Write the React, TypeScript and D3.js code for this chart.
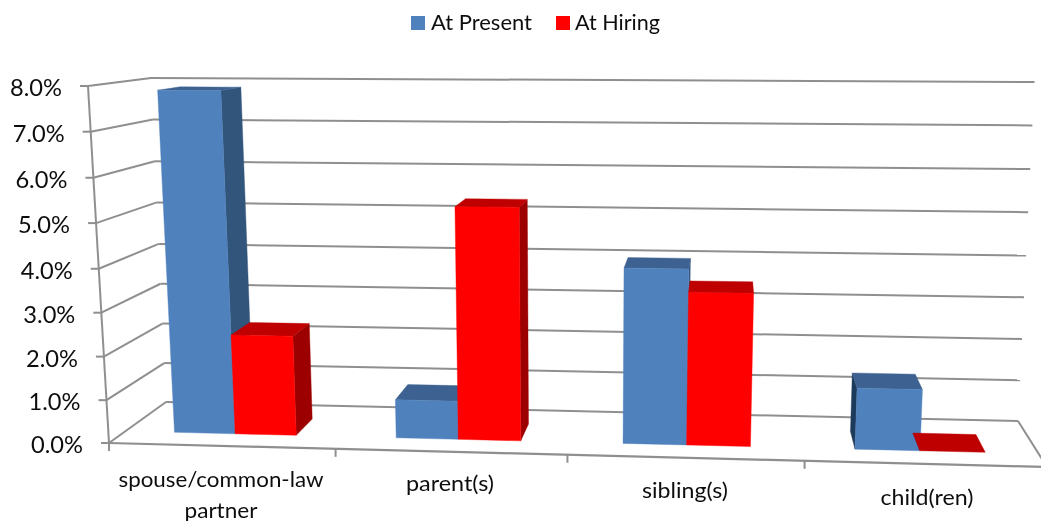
import React from "react";
import * as d3 from "d3";

const categories = ["spouse/common-law partner", "parent(s)", "sibling(s)", "child(ren)"];
const seriesNames = ["At Present", "At Hiring"];
const atPresent = [7.86, 0.9, 4.03, 1.4];
const atHiring = [2.33, 5.33, 3.5, 0];
const yTicks = [0, 1, 2, 3, 4, 5, 6, 7, 8];
const yLabels = ["0.0%", "1.0%", "2.0%", "3.0%", "4.0%", "5.0%", "6.0%", "7.0%", "8.0%"];

const W = 1041;
const H = 521;
const FONT = "Lato, 'Open Sans', sans-serif";
const GRID = "#8f8f8f";

type Pt = [number, number];
// projected corners of the chart box
const FL0: Pt = [109, 443], FL8: Pt = [88, 86];
const BL0: Pt = [166, 402], BL8: Pt = [151, 78];
const BR0: Pt = [1018, 421], BR8: Pt = [1034.5, 82];
const FR0: Pt = [1047, 467], FR8: Pt = [1068, 92];

const wFrac = d3.scaleLinear().domain(yTicks).range([0, 0.12, 0.242, 0.365, 0.488, 0.616, 0.743, 0.872, 1]);
const lerp = (a: Pt, b: Pt, t: number): Pt => [a[0] + (b[0] - a[0]) * t, a[1] + (b[1] - a[1]) * t];
const warp = (u: number) => u - 0.045 * u * (1 - u);

function P(u: number, v: number, w: number): Pt {
  const t = wFrac(w);
  const fl = lerp(FL0, FL8, t), bl = lerp(BL0, BL8, t), br = lerp(BR0, BR8, t), fr = lerp(FR0, FR8, t);
  const uu = warp(u);
  return lerp(lerp(fl, fr, uu), lerp(bl, br, uu), v);
}

const band = d3.scaleBand<string>().domain(categories).range([0, 1]).paddingInner(0.448).paddingOuter(0.224);
const sub = d3.scaleBand<string>().domain(seriesNames).range([0, band.bandwidth()]);
const V0 = 0.29, V1 = 0.68;

const palette = [
  { front: "#4F81BD", top: "#3C6291", right: "#32547C", left: "#1F3A5A" },
  { front: "#FF0000", top: "#BF0000", right: "#9C0000", left: "#800000" },
];

const path = (pts: Pt[]) => d3.line()(pts)! + "Z";

function Bar({ cat, s, value, pal }: { cat: string; s: string; value: number; pal: (typeof palette)[number] }) {
  const u0 = band(cat)! + sub(s)!;
  const u1 = u0 + sub.bandwidth();
  const fbl = P(u0, V0, 0), fbr = P(u1, V0, 0), bbl = P(u0, V1, 0), bbr = P(u1, V1, 0);
  const ftl = P(u0, V0, value), ftr = P(u1, V0, value), btl = P(u0, V1, value), btr = P(u1, V1, value);
  const faces: { d: string; c: string }[] = [];
  if (bbr[0] > fbr[0]) faces.push({ d: path([fbr, bbr, btr, ftr]), c: pal.right });
  if (bbl[0] < fbl[0]) faces.push({ d: path([fbl, bbl, btl, ftl]), c: pal.left });
  faces.push({ d: path([ftl, ftr, btr, btl]), c: pal.top });
  if (value > 0) faces.push({ d: path([fbl, fbr, ftr, ftl]), c: pal.front });
  return (
    <g>
      {faces.map((f, i) => (
        <path key={i} d={f.d} fill={f.c} stroke={f.c} strokeWidth={0.4} />
      ))}
    </g>
  );
}

const seg = (a: Pt, b: Pt, k: string, w = 2) => (
  <line key={k} x1={a[0]} y1={a[1]} x2={b[0]} y2={b[1]} stroke={GRID} strokeWidth={w} />
);

const catLabels: { lines: string[]; x: number; y: number; w: number[] }[] = [
  { lines: ["spouse/common-law", "partner"], x: 221, y: 487, w: [205, 73] },
  { lines: ["parent(s)"], x: 450, y: 491, w: [88] },
  { lines: ["sibling(s)"], x: 685, y: 498, w: [86] },
  { lines: ["child(ren)"], x: 927, y: 505, w: [93] },
];

export default function App() {
  return (
    <svg
      width={W}
      height={H}
      viewBox={`0 0 ${W} ${H}`}
      style={{ position: "fixed", left: 0, top: 0, background: "#fff" }}
      fontFamily={FONT}
    >
      <defs>
        <filter id="soft" x="0" y="0" width="100%" height="100%">
          <feGaussianBlur stdDeviation="0.45" />
        </filter>
      </defs>
      <g filter="url(#soft)">
        {/* walls */}
        {yTicks.map((t) => {
          const fl = P(0, 0, t), bl = P(0, 1, t), br = P(1, 1, t);
          return (
            <g key={t}>
              {seg(fl, bl, `w${t}`)}
              {seg(bl, br, `b${t}`)}
              {seg([fl[0] - 8, fl[1]], fl, `t${t}`)}
            </g>
          );
        })}
        {seg(P(0, 0, 0), P(0, 0, 8), "axis")}
        {seg(P(1, 1, 0), P(1, 0, 0), "floorR")}
        {seg(P(0, 0, 0), P(1, 0, 0), "floorF", 2.2)}
        {[0, 1, 2, 3].map((i) => {
          const p = P(i / 4, 0, 0);
          return seg(p, [p[0], p[1] + 8], `x${i}`);
        })}
        {/* bars */}
        {categories.map((c, i) => (
          <g key={c}>
            <Bar cat={c} s={seriesNames[0]} value={atPresent[i]} pal={palette[0]} />
            <Bar cat={c} s={seriesNames[1]} value={atHiring[i]} pal={palette[1]} />
          </g>
        ))}
        {/* y labels */}
        {yTicks.map((t, i) => {
          const p = P(0, 0, t);
          return (
            <text
              key={t}
              x={p[0] - 26}
              y={p[1] + 10}
              textAnchor="end"
              fontSize={24}
              fill="#111"
              textLength={52}
              lengthAdjust="spacingAndGlyphs"
            >
              {yLabels[i]}
            </text>
          );
        })}
        {/* category labels */}
        {catLabels.map((l) =>
          l.lines.map((s, j) => (
            <text
              key={s}
              x={l.x}
              y={l.y + j * 31}
              textAnchor="middle"
              fontSize={21}
              fill="#111"
              textLength={l.w[j]}
              lengthAdjust="spacingAndGlyphs"
            >
              {s}
            </text>
          ))
        )}
        {/* legend */}
        <rect x={411} y={16} width={14} height={14} fill={palette[0].front} />
        <text x={431} y={30} fontSize={22} fill="#111" textLength={101} lengthAdjust="spacingAndGlyphs">
          {seriesNames[0]}
        </text>
        <rect x={556} y={16} width={14} height={14} fill={palette[1].front} />
        <text x={575} y={30} fontSize={22} fill="#111" textLength={85} lengthAdjust="spacingAndGlyphs">
          {seriesNames[1]}
        </text>
      </g>
    </svg>
  );
}
